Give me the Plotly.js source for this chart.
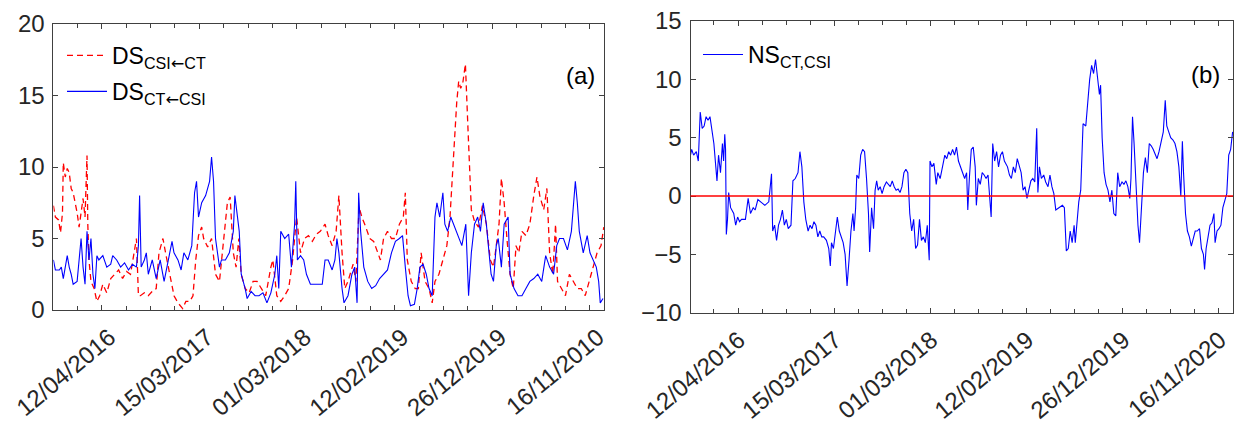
<!DOCTYPE html>
<html>
<head>
<meta charset="utf-8">
<script src="https://cdn.plot.ly/plotly-3.0.1.min.js"></script>
<style>
html,body{margin:0;padding:0;background:#fff;}
#chart{width:1234px;height:423px;}
</style>
</head>
<body>
<div id="chart"></div>
<script>
// ---- Data (trading-day index vs. value) ----
const tickPositions = [122, 369, 616, 863, 1110, 1357];
const tickLabelsA = ['12/04/2016','15/03/2017','01/03/2018','12/02/2019','26/12/2019','16/11/2010'];
const tickLabelsB = ['12/04/2016','15/03/2017','01/03/2018','12/02/2019','26/12/2019','16/11/2020'];

// DS CSI<-CT (red dashed)
const dsCsiCtX = [0,5,13,18,23,25,30,35,40,45,50,55,60,65,70,75,80,85,87,90,95,103,110,117,125,135,145,155,165,175,185,195,205,210,215,220,230,240,250,260,267,277,285,295,305,315,327,335,345,353,360,367,375,380,390,400,410,420,430,440,447,455,462,469,475,485,495,505,515,525,537,550,555,565,575,585,595,605,615,625,635,645,655,665,675,687,695,705,715,722,730,737,745,758,765,773,780,790,800,810,820,827,835,845,855,865,875,885,890,895,905,915,923,930,940,950,958,965,975,985,995,1003,1010,1015,1020,1025,1030,1035,1042,1048,1052,1057,1065,1075,1085,1095,1105,1113,1120,1127,1133,1140,1147,1155,1163,1170,1177,1185,1195,1205,1215,1223,1230,1240,1248,1255,1263,1270,1275,1285,1295,1305,1315,1325,1335,1345,1355,1365,1375,1385,1392];
const dsCsiCtY = [7.3,6.5,6.3,5.4,6.8,10.3,9.3,9.9,9.6,8.5,8.2,7.5,6.8,5.8,7.0,7.8,6.5,10.8,6.0,3.5,2.0,1.5,0.6,1.0,1.8,1.2,2.2,2.5,2.8,2.2,2.7,2.5,4.2,5.0,1.0,1.0,1.2,1.0,1.3,1.5,4.0,5.0,3.8,2.5,1.0,0.5,0.1,0.6,0.6,1.0,3.5,5.2,5.8,5.0,4.4,5.0,2.5,2.0,5.0,7.5,7.9,4.0,3.0,5.0,2.5,1.5,1.2,2.0,2.0,1.5,1.0,3.0,3.5,1.0,0.6,1.0,1.5,3.5,6.5,4.0,5.0,5.2,4.8,5.3,5.5,6.0,5.2,4.5,5.5,8.0,4.0,1.5,2.0,3.2,2.0,7.2,6.5,5.8,5.0,4.8,4.0,3.5,5.0,5.5,5.0,5.0,6.0,6.5,8.2,3.5,2.0,1.5,1.5,4.0,2.0,1.5,0.5,2.0,2.5,3.5,4.5,6.5,10.0,12.5,14.5,16.0,15.5,15.8,17.2,13.0,10.5,7.0,6.2,5.8,7.3,6.0,3.5,3.0,4.5,6.0,9.2,7.5,5.0,2.5,1.5,4.5,4.0,5.5,5.2,6.0,8.0,9.3,8.0,7.0,8.5,4.0,2.5,6.0,2.0,1.5,1.0,2.5,2.0,1.5,1.5,1.0,2.0,3.0,4.0,4.5,5.8];

// DS CT<-CSI (blue solid)
const dsCtCsiX = [0,5,15,20,25,30,35,40,45,50,60,65,70,75,80,85,90,95,100,105,110,115,125,135,145,150,160,170,180,190,200,210,215,218,222,230,235,240,250,260,270,280,290,300,305,315,323,330,340,350,357,362,367,375,385,395,400,405,410,420,425,435,445,455,459,465,470,475,485,490,500,510,520,530,540,550,560,565,570,575,585,595,602,610,613,617,625,633,640,650,660,670,680,687,695,705,712,717,722,730,735,745,755,762,768,772,777,785,795,805,815,825,835,845,855,865,875,883,890,897,903,913,920,927,935,943,950,958,965,970,977,985,990,997,1005,1015,1025,1033,1043,1050,1057,1065,1073,1080,1087,1095,1100,1107,1113,1120,1125,1133,1140,1150,1155,1165,1175,1185,1195,1205,1215,1225,1235,1245,1255,1265,1273,1280,1290,1300,1310,1315,1320,1325,1330,1340,1350,1357,1365,1373,1379,1383,1390];
const dsCtCsiY = [3.5,2.8,2.8,3.0,2.2,3.0,3.8,3.0,2.5,1.8,2.0,3.5,5.0,3.0,1.8,5.5,3.5,5.0,2.5,1.5,3.8,3.5,3.8,3.0,3.2,3.8,3.5,3.0,3.3,2.8,3.2,3.0,4.5,8.0,3.0,3.5,4.0,2.5,3.5,2.2,3.5,2.0,3.5,4.8,4.0,3.5,2.8,4.0,3.5,4.5,8.2,9.0,6.5,7.5,8.0,9.0,10.7,9.0,5.0,3.0,3.5,3.5,4.0,5.5,8.0,6.5,5.5,2.5,1.5,0.8,1.3,1.0,1.0,1.2,0.5,1.2,2.5,3.8,1.5,5.5,5.0,5.3,3.0,6.0,9.0,3.5,3.8,3.5,2.5,1.8,1.8,1.8,1.8,3.5,3.5,2.8,3.5,5.0,4.0,1.5,0.5,1.0,2.5,3.0,0.5,8.2,5.5,3.0,2.0,1.5,1.7,2.2,2.5,2.8,4.0,4.8,5.0,5.2,3.0,1.0,0.3,0.4,1.5,3.0,3.2,2.5,1.5,1.0,6.5,7.5,6.5,8.2,6.0,5.5,6.5,5.8,5.0,4.5,6.0,1.0,4.0,6.0,6.5,5.5,7.5,6.0,4.5,2.5,2.0,4.5,5.0,3.0,6.0,6.5,2.5,1.5,1.0,1.0,1.5,2.0,2.2,2.5,2.0,3.8,3.0,2.5,4.5,5.0,5.0,4.2,5.5,7.5,9.0,7.5,5.5,4.0,5.2,4.0,3.5,3.0,2.0,0.5,0.8];

// NS CT,CSI (blue solid, panel b)
const nsX = [0,3,8,15,20,25,30,35,40,45,50,55,60,65,68,72,77,82,85,88,90,92,95,98,103,111,116,121,126,131,141,148,154,161,166,173,181,191,201,208,211,216,221,226,231,236,241,246,251,258,263,269,276,281,286,291,296,302,307,312,317,322,327,332,337,342,349,355,359,362,367,372,377,382,387,392,397,402,407,412,417,420,424,427,432,437,442,447,452,457,460,465,470,474,478,482,487,492,497,503,513,518,523,528,533,538,543,548,553,558,563,568,573,578,583,588,593,598,603,608,613,615,620,625,631,635,641,648,653,658,663,668,673,678,683,688,693,698,704,709,712,716,721,726,731,734,739,744,749,754,759,764,769,772,776,781,786,791,796,801,806,814,819,824,829,834,839,844,849,854,859,864,869,874,879,884,889,892,896,901,907,912,918,923,928,933,938,945,955,960,965,970,975,980,985,988,993,997,1002,1008,1015,1020,1025,1030,1035,1040,1045,1050,1053,1057,1062,1067,1072,1077,1082,1087,1092,1097,1102,1108,1113,1118,1123,1128,1131,1135,1139,1144,1149,1153,1158,1163,1168,1173,1178,1183,1188,1193,1198,1203,1208,1214,1219,1223,1228,1233,1239,1244,1249,1254,1259,1263,1266,1271,1276,1281,1286,1291,1296,1301,1307,1312,1317,1320,1324,1329,1334,1339,1344,1347,1352,1357,1362,1367,1372,1377,1382,1387,1392];
const nsY = [3.5,4.0,3.5,3.8,3.0,7.2,5.8,6.0,6.8,6.5,6.8,5.5,4.5,2.5,1.3,3.5,2.0,4.5,3.0,5.3,4.0,-3.3,-2.0,0.3,-1.0,-1.5,-2.5,-1.8,-2.2,-2.0,-2.0,-0.2,-1.5,-1.0,-1.2,-0.3,-0.5,-0.8,-0.5,1.9,-3.0,-2.5,-3.8,-2.5,-2.0,-1.2,-2.5,-2.0,-2.8,-2.5,1.3,1.5,2.0,3.8,2.5,-0.5,-2.0,-3.0,-2.5,-2.8,-2.2,-2.5,-3.5,-3.0,-3.5,-3.5,-3.8,-4.5,-6.0,-4.0,-4.5,-3.0,-1.8,-3.0,-3.5,-4.0,-5.0,-7.7,-5.5,-3.0,-1.5,-3.0,-1.0,1.8,1.5,3.5,4.0,3.8,1.5,-1.5,-4.8,-1.0,-2.8,0.5,1.3,0.5,0.8,0.2,0.8,1.2,0.8,1.3,0.8,0.5,0.6,0.3,0.8,2.0,2.3,2.0,-1.5,-3.0,-2.0,-4.5,-4.2,-2.0,-3.8,-3.5,-4.0,-2.5,-5.5,3.0,2.5,2.8,1.0,2.0,1.5,2.5,3.5,3.2,3.8,3.5,4.0,3.5,4.2,3.0,2.5,2.0,1.5,2.0,-1.2,1.5,4.0,4.2,2.5,-0.8,1.5,1.0,2.0,1.8,1.5,1.8,-0.2,-1.8,4.5,3.0,3.8,2.5,3.5,3.8,3.0,2.5,1.8,1.5,2.5,2.0,3.2,2.5,2.0,0.5,0.8,-0.2,0.5,1.3,1.5,1.2,5.8,0.3,2.5,1.5,1.8,1.2,0.8,1.8,0.8,0.2,-1.2,-1.0,-0.8,-1.0,-4.7,-4.5,-3.0,-4.0,-2.5,-4.0,-2.0,-0.5,0.5,6.2,6.0,8.0,10.0,11.2,10.5,11.7,10.0,8.7,9.5,5.0,2.0,1.0,0.5,-0.5,0.5,-1.5,-1.7,2.0,0.8,1.2,1.0,1.3,0.8,-0.2,1.5,6.8,4.5,0.5,-2.5,-4.0,-0.5,2.0,3.3,2.0,4.5,4.3,4.0,3.5,3.2,3.8,4.5,5.5,8.2,6.0,5.5,5.0,4.8,4.5,3.8,2.5,0.0,4.7,2.0,-1.5,-3.0,-3.5,-4.3,-3.5,-3.0,-3.0,-2.8,-4.5,-5.0,-6.3,-4.5,-3.5,-2.5,-2.3,-1.5,-4.0,-3.0,-2.8,-2.5,-1.0,-0.5,0.2,3.5,4.0,5.5];

const xRange = [0, 1393];

// ---- Styling ----
const FONT = '"Liberation Sans", Arial, Helvetica, sans-serif';
const TXT = '#262626';
const AX = '#404040';
const ARROW = '<span style="font-family:\'DejaVu Sans\'">\u2190</span>';

function xAxis(domain, labels, anchor, shift) {
  return {
    domain: domain, anchor: anchor, range: xRange,
    tickmode: 'array', tickvals: tickPositions, ticktext: labels,
    tickangle: -40, ticks: 'inside', ticklen: 5, tickcolor: AX, tickwidth: 1,
    minor: {tickmode: 'linear', tick0: tickPositions[0], dtick: (tickPositions[1]-tickPositions[0])/4,
            ticks: 'inside', ticklen: 4, tickcolor: AX, tickwidth: 1},
    showline: true, linecolor: AX, linewidth: 1, mirror: 'ticks',
    showgrid: false, zeroline: false,
    ticklabelshift: shift, ticklabelstandoff: 3, ticklabeloverflow: 'allow',
    tickfont: {family: FONT, size: 24, color: TXT},
    automargin: false
  };
}
function yAxis(domain, range, anchor) {
  return {
    domain: domain, anchor: anchor, range: range,
    tickmode: 'linear', tick0: 0, dtick: 5,
    ticks: 'inside', ticklen: 5, tickcolor: AX, tickwidth: 1,
    showline: true, linecolor: AX, linewidth: 1, mirror: 'ticks',
    showgrid: false, zeroline: false, ticklabelstandoff: 3,
    tickfont: {family: FONT, size: 24, color: TXT},
    automargin: false
  };
}

const traces = [
  {x: dsCsiCtX, y: dsCsiCtY, xaxis: 'x', yaxis: 'y', type: 'scatter', mode: 'lines',
   name: 'DS<sub>CSI' + ARROW + 'CT</sub>', legendgroup: 'g1',
   line: {color: '#ff0000', width: 1.3, dash: '6px,4px'}, legend: 'legend'},
  {x: dsCtCsiX, y: dsCtCsiY, xaxis: 'x', yaxis: 'y', type: 'scatter', mode: 'lines',
   name: 'DS<sub>CT' + ARROW + 'CSI</sub>', legendgroup: 'g2',
   line: {color: '#0000ff', width: 1.1}, legend: 'legend'},
  {x: nsX, y: nsY, xaxis: 'x2', yaxis: 'y2', type: 'scatter', mode: 'lines',
   name: 'NS<sub>CT,CSI</sub>', line: {color: '#0000ff', width: 1.1}, legend: 'legend2'}
];

const layout = {
  width: 1234, height: 423,
  margin: {l: 0, r: 0, t: 0, b: 0},
  paper_bgcolor: '#ffffff', plot_bgcolor: '#ffffff',
  font: {family: FONT, color: TXT},
  xaxis: xAxis([53.4/1234, 604.2/1234], tickLabelsA, 'y', 8),
  yaxis: yAxis([1-310/423, 1-24/423], [0, 20], 'x'),
  xaxis2: xAxis([690.5/1234, 1233/1234], tickLabelsB, 'y2', 1),
  yaxis2: yAxis([1-312.7/423, 1-21/423], [-10, 15], 'x2'),
  showlegend: true,
  legend: {x: 62/1234, y: 1-34/423, xanchor: 'left', yanchor: 'top',
           bgcolor: 'rgba(0,0,0,0)', borderwidth: 0, traceorder: 'grouped', tracegroupgap: 3,
           font: {family: FONT, size: 23, color: '#000'}, itemwidth: 40},
  legend2: {x: 698/1234, y: 1-33/423, xanchor: 'left', yanchor: 'top',
           bgcolor: 'rgba(0,0,0,0)', borderwidth: 0,
           font: {family: FONT, size: 23, color: '#000'}, itemwidth: 40},
  shapes: [
    {type: 'line', xref: 'x2 domain', x0: 0, x1: 1, yref: 'y2', y0: 0, y1: 0,
     line: {color: '#ff0000', width: 1.5}, layer: 'above'}
  ],
  annotations: [
    {xref: 'x domain', yref: 'y domain', x: 0.987, y: 0.82, xanchor: 'right', yanchor: 'middle',
     text: '(a)', showarrow: false, font: {family: FONT, size: 24, color: '#000'}},
    {xref: 'x2 domain', yref: 'y2 domain', x: 0.98, y: 0.815, xanchor: 'right', yanchor: 'middle',
     text: '(b)', showarrow: false, font: {family: FONT, size: 24, color: '#000'}}
  ]
};

Plotly.newPlot('chart', traces, layout, {displayModeBar: false, staticPlot: true});
</script>
</body>
</html>
